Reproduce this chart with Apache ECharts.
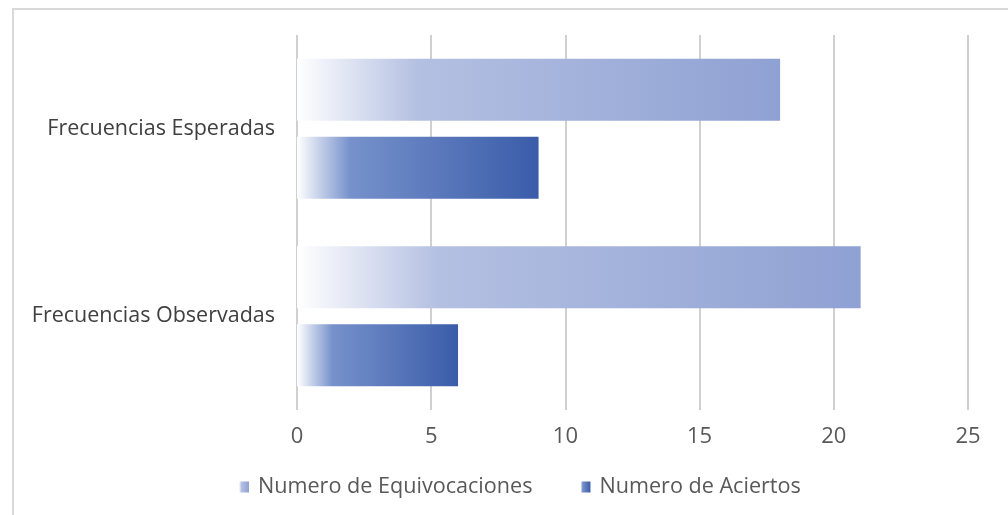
<!DOCTYPE html>
<html>
<head>
<meta charset="utf-8">
<script src="https://cdn.jsdelivr.net/npm/echarts@6/dist/echarts.min.js"></script>
<style>
  html, body { margin: 0; padding: 0; background: #fff; }
  #chart { width: 1008px; height: 515px; }
</style>
</head>
<body>
<div id="chart"></div>
<script>
// categorias, de arriba a abajo
var categories = ["Frecuencias Esperadas", "Frecuencias Observadas"];
var seriesNames = ["Numero de Equivocaciones", "Numero de Aciertos"];
var equivocaciones = [18, 21];
var aciertos = [9, 6];
var xTicks = [0, 25, 5];   // min, max, interval

var fontFamily = "Open Sans";

function grad(c0, c1, c2, stop) {
    return new echarts.graphic.LinearGradient(0, 0, 1, 0, [
        { offset: 0, color: c0 },
        { offset: stop, color: c1 },
        { offset: 1, color: c2 }
    ]);
}

var chart = echarts.init(document.getElementById("chart"));
var option = {
    animation: false,
    textStyle: { fontFamily: fontFamily },
    graphic: [{
        type: "rect",
        shape: { x: 13, y: 9, width: 1010, height: 520 },
        style: { fill: "none", stroke: "#d9d9d9", lineWidth: 2 }
    }],
    grid: { left: 297, right: 40, top: 35, bottom: 105, containLabel: false },
    legend: {
        data: seriesNames,
        bottom: 12,
        left: 234,
        icon: "rect",
        itemWidth: 10,
        itemHeight: 11,
        itemGap: 48,
        textStyle: { color: "#595959", fontSize: 21.6, fontFamily: fontFamily, padding: [0, 0, 0, 4] }
    },
    xAxis: {
        type: "value",
        min: xTicks[0],
        max: xTicks[1],
        interval: xTicks[2],
        axisLine: { show: false },
        axisTick: { show: false },
        axisLabel: { color: "#595959", fontSize: 22, margin: 16 },
        splitLine: { lineStyle: { color: "#d0d0d0", width: 2 } }
    },
    yAxis: {
        type: "category",
        inverse: true,
        data: categories,
        axisLine: { show: false },
        axisTick: { show: false },
        axisLabel: { color: "#404040", fontSize: 21.5, margin: 22 }
    },
    series: [
        {
            name: seriesNames[0],
            type: "bar",
            data: equivocaciones,
            barWidth: 62,
            barGap: "26%",
            itemStyle: { color: grad("#ffffff", "#b4c0e2", "#8fa1d3", 0.25) }
        },
        {
            name: seriesNames[1],
            type: "bar",
            data: aciertos,
            barWidth: 62,
            barGap: "26%",
            itemStyle: { color: grad("#ffffff", "#7691cb", "#3a5ca9", 0.22) }
        }
    ]
};
chart.setOption(option);
</script>
</body>
</html>
